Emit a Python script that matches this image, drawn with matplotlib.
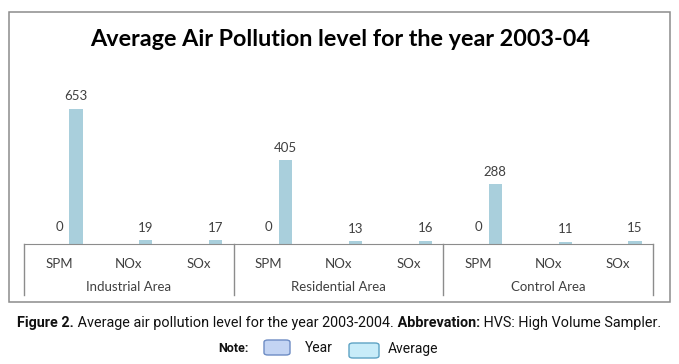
import numpy as np
import matplotlib
matplotlib.use('Agg')
import matplotlib.pyplot as plt
from matplotlib.patches import Rectangle, FancyBboxPatch
from matplotlib.transforms import blended_transform_factory

# 데이터
areas = ['Industrial Area', 'Residential Area', 'Control Area']
pollutants = ['SPM', 'NOx', 'SOx']
year_vals = [0, 0, 0, 0, 0, 0, 0, 0, 0]
avg_vals = [653, 19, 17, 405, 13, 16, 288, 11, 15]
year_labels = ['0', '', '', '0', '', '', '0', '', '']

W, H = 679, 364
fig = plt.figure(figsize=(W / 100, H / 100), dpi=100)


def fx(x):
    return x / W


def fy(y):
    return 1 - y / H


chart_font = 'Lato'
label_color = '#404040'
axis_color = '#8c8c8c'
bar_color = '#a9cfdc'

# 차트 테두리
fig.patches.append(Rectangle((fx(9), fy(302)), fx(670) - fx(9), fy(12) - fy(302),
                             transform=fig.transFigure, fill=False,
                             edgecolor='#8c8c8c', linewidth=1.1))

fig.text(fx(340), fy(39), 'Average Air Pollution level for the year 2003-04',
         ha='center', va='center', fontsize=16.8, fontweight='bold',
         family=chart_font, color='black')

ax = fig.add_axes([fx(24), fy(244), fx(653) - fx(24), fy(60) - fy(244)])
n = len(avg_vals)
x = np.arange(n)
bw = 0.19
off = 0.243
ax.bar(x, year_vals, width=bw, color='#a6bde6')
ax.bar(x + off, avg_vals, width=bw, color=bar_color)
ax.set_xlim(-0.5, n - 0.5)
ax.set_ylim(0, 890)

for i in range(n):
    if year_labels[i]:
        ax.annotate(year_labels[i], (x[i], year_vals[i]), xytext=(0, 12),
                    textcoords='offset points', ha='center', va='center',
                    fontsize=9.5, family=chart_font, color=label_color)
    ax.annotate(str(avg_vals[i]), (x[i] + off, avg_vals[i]), xytext=(0, 9),
                textcoords='offset points', ha='center', va='center',
                fontsize=9.5, family=chart_font, color=label_color)

for s in ['top', 'right', 'left']:
    ax.spines[s].set_visible(False)
ax.spines['bottom'].set_color(axis_color)
ax.set_yticks([])
ax.set_xticks(x, pollutants * len(areas))
ax.tick_params(axis='x', length=0, pad=10, labelsize=9.5, labelcolor=label_color)
for t in ax.get_xticklabels():
    t.set_family(chart_font)

# 그룹 구분선과 그룹 이름
trans = blended_transform_factory(ax.transData, ax.transAxes)
ax_h = 244 - 60
line_bot = -(295 - 244) / ax_h
grp_y = -(287 - 244) / ax_h
for g in range(len(areas) + 1):
    xb = g * len(pollutants) - 0.5
    ax.plot([xb, xb], [0, line_bot], transform=trans, color=axis_color,
            linewidth=1, clip_on=False)
for g, name in enumerate(areas):
    xc = g * len(pollutants) + (len(pollutants) - 1) / 2
    ax.text(xc, grp_y, name, transform=trans, ha='center', va='center',
            fontsize=9.5, family=chart_font, color=label_color)

# 캡션
renderer = fig.canvas.get_renderer()
parts = [('Figure 2.', 'bold'), (' Average air pollution level for the year 2003-2004.', 'normal'),
         (' Abbrevation:', 'bold'), (' HVS: High Volume Sampler.', 'normal')]
cx = 17
for txt, wt in parts:
    t = fig.text(fx(cx), fy(323), txt, ha='left', va='center', fontsize=10.4,
                 fontweight=wt, family='Roboto', color='#111111')
    bb = t.get_window_extent(renderer)
    cx += bb.width

# 범례
fig.text(fx(218), fy(348), 'Note:', ha='left', va='center', fontsize=9,
         fontweight='bold', family='Roboto', color='#111111')
fig.patches.append(FancyBboxPatch((fx(264), fy(355)), fx(290) - fx(264), fy(340) - fy(355),
                                  boxstyle='round,pad=0,rounding_size=0.006',
                                  transform=fig.transFigure, facecolor='#c3d4f3',
                                  edgecolor='#6d8cc4', linewidth=1))
fig.text(fx(305), fy(348), 'Year', ha='left', va='center', fontsize=10,
         family='Roboto', color='#111111')
fig.patches.append(FancyBboxPatch((fx(349), fy(358)), fx(379) - fx(349), fy(343) - fy(358),
                                  boxstyle='round,pad=0,rounding_size=0.006',
                                  transform=fig.transFigure, facecolor='#c8ecf9',
                                  edgecolor='#5ea3c4', linewidth=1))
fig.text(fx(388), fy(349), 'Average', ha='left', va='center', fontsize=10,
         family='Roboto', color='#111111')

fig.savefig('out.png', dpi=100)
